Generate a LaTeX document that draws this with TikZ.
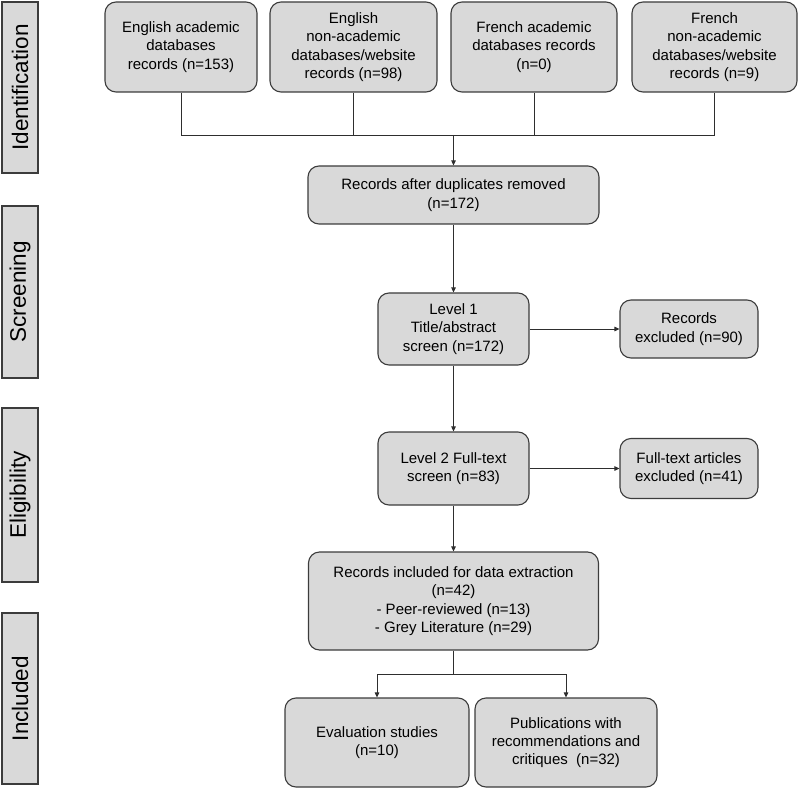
\documentclass[tikz,border=0pt]{standalone}
\usepackage{fontspec}
\usepackage{graphicx}
\setmainfont{Liberation Sans}
\usetikzlibrary{arrows.meta}
\definecolor{boxfill}{HTML}{D9D9D9}
\definecolor{boxline}{HTML}{3C3C3C}
\definecolor{conn}{HTML}{2E2E2E}
\begin{document}
\begin{tikzpicture}[x=1pt,y=-1pt,
  rbox/.style={draw=boxline,fill=boxfill,line width=1.1pt,rounded corners=11pt,
    align=center,inner sep=0pt,font=\fontsize{15}{18.3}\selectfont},
  side/.style={draw=boxline,fill=boxfill,line width=1.1pt,inner sep=0pt,
    font=\fontsize{22.5}{26}\selectfont},
  link/.style={draw=conn,line width=0.9pt},
  arr/.style={link,-{Triangle[length=5pt,width=4.5pt]}}]
\useasboundingbox (0,0) rectangle (800,791);
% side labels
\node[side,minimum width=36pt,minimum height=171pt] (sid) at (20,87.5) {\rotatebox{90}{Identification}};
\node[side,minimum width=36pt,minimum height=172pt] (sscr) at (20,292) {\rotatebox{90}{Screening}};
\node[side,minimum width=36pt,minimum height=174pt] (seli) at (20,495) {\rotatebox{90}{Eligibility}};
\node[side,minimum width=36pt,minimum height=171pt] (sinc) at (20,698.5) {\rotatebox{90}{Included}};
% identification boxes
\node[rbox,minimum width=152pt,minimum height=90pt] (e1) at (181,47) {English academic\\databases\\records (n=153)};
\node[rbox,minimum width=167pt,minimum height=90pt] (e2) at (353.5,47) {English\\non-academic\\databases/website\\records (n=98)};
\node[rbox,minimum width=166pt,minimum height=90pt] (e3) at (534,47) {French academic\\databases records\\(n=0)};
\node[rbox,minimum width=165pt,minimum height=90pt] (e4) at (714.5,47) {French\\non-academic\\databases/website\\records (n=9)};
% main column
\node[rbox,minimum width=291pt,minimum height=58pt] (dup) at (453.5,195) {Records after duplicates removed\\(n=172)};
\node[rbox,minimum width=151pt,minimum height=72pt] (lv1) at (453.5,329) {Level 1\\Title/abstract\\screen (n=172)};
\node[rbox,minimum width=138pt,minimum height=58pt] (ex1) at (689,329) {Records\\excluded (n=90)};
\node[rbox,minimum width=151pt,minimum height=73pt] (lv2) at (453.5,468.5) {Level 2 Full-text\\screen (n=83)};
\node[rbox,minimum width=138pt,minimum height=60pt] (ex2) at (689,468.5) {Full-text articles\\excluded (n=41)};
\node[rbox,minimum width=290pt,minimum height=98pt] (inc) at (453.5,601) {Records included for data extraction\\(n=42)\\- Peer-reviewed (n=13)\\- Grey Literature (n=29)};
\node[rbox,minimum width=184pt,minimum height=89pt] (ev) at (377,742.5) {Evaluation studies\\(n=10)};
\node[rbox,minimum width=182pt,minimum height=89pt] (pub) at (566,742.5) {Publications with\\recommendations and\\critiques~~(n=32)};
% connectors
\coordinate (j) at (453.5,135);
\coordinate (b) at (453.5,674);
\draw[link] (e1.south) -- (e1.south |- j) -- (e4.south |- j) -- (e4.south);
\draw[link] (e2.south) -- (e2.south |- j);
\draw[link] (e3.south) -- (e3.south |- j);
\draw[arr] (j) -- (dup.north);
\draw[arr] (dup.south) -- (lv1.north);
\draw[arr] (lv1.east) -- (ex1.west);
\draw[arr] (lv1.south) -- (lv2.north);
\draw[arr] (lv2.east) -- (ex2.west);
\draw[arr] (lv2.south) -- (inc.north);
\draw[link] (inc.south) -- (b);
\draw[arr] (b) -| (ev.north);
\draw[arr] (b) -| (pub.north);
\end{tikzpicture}
\end{document}
